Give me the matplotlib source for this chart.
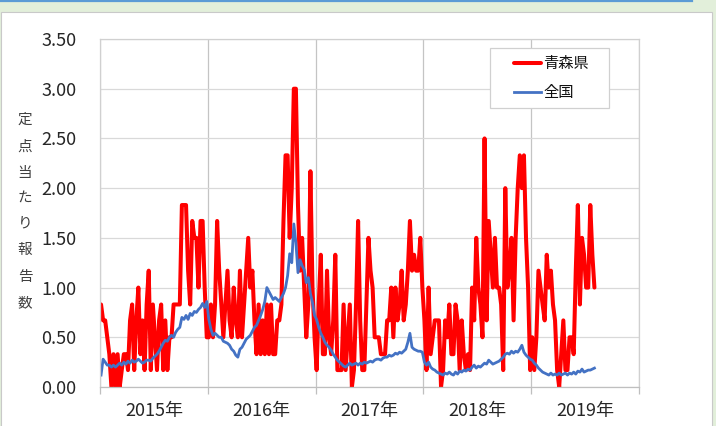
import matplotlib
matplotlib.use("Agg")
import matplotlib.pyplot as plt
import numpy as np
from matplotlib.patches import Rectangle
from matplotlib.lines import Line2D

plt.rcParams['font.family'] = ['Noto Sans CJK JP', 'DejaVu Sans']

# 週ごとの定点当たり報告数 (1年 = 52週, 2019年は途中まで)
years = ['2015年', '2016年', '2017年', '2018年', '2019年']
weeks_per_year = 52

aomori_2015 = [0.83, 0.67, 0.67, 0.5, 0.33, 0.0, 0.33, 0.0, 0.33, 0.0,
               0.17, 0.33, 0.33, 0.17, 0.67, 0.83, 0.17, 0.67, 1.0, 0.33,
               0.67, 0.17, 0.83, 1.17, 0.17, 0.83, 0.5, 0.17, 0.67, 0.83,
               0.17, 0.67, 0.17, 0.5, 0.5, 0.83, 0.83, 0.83, 0.83, 1.83,
               1.83, 1.83, 1.17, 0.83, 1.67, 1.5, 1.5, 1.0, 1.67, 1.67,
               1.0, 0.5]
aomori_2016 = [0.5, 0.83, 0.5, 0.83, 1.67, 1.17, 0.83, 0.5, 0.83, 1.17,
               0.67, 0.5, 1.0, 0.67, 0.5, 1.17, 0.5, 0.83, 1.17, 1.5,
               1.0, 1.17, 0.67, 0.33, 0.83, 0.33, 0.67, 0.33, 0.83, 0.33,
               0.83, 0.33, 0.33, 0.67, 0.67, 0.83, 1.67, 2.33, 2.33, 1.5,
               2.0, 3.0, 3.0, 1.83, 1.17, 1.5, 1.0, 0.5, 0.83, 2.17,
               1.0, 0.5]
aomori_2017 = [0.17, 0.83, 1.33, 0.33, 0.33, 1.17, 0.5, 0.33, 0.67, 1.33,
               0.17, 0.17, 0.17, 0.83, 0.17, 0.5, 0.83, 0.0, 0.17, 0.83,
               1.67, 0.67, 0.17, 0.17, 0.83, 1.5, 1.17, 1.0, 0.5, 0.5,
               0.5, 0.33, 0.33, 0.33, 0.67, 0.67, 1.0, 0.5, 1.0, 0.67,
               0.83, 1.17, 0.67, 0.83, 1.17, 1.67, 1.17, 1.33, 1.17, 1.17,
               1.5, 1.0]
aomori_2018 = [0.67, 0.17, 1.0, 0.33, 0.5, 0.67, 0.67, 0.67, 0.0, 0.17,
               0.67, 0.5, 0.83, 0.33, 0.33, 0.83, 0.67, 0.17, 0.67, 0.33,
               0.17, 0.33, 0.17, 1.0, 0.67, 1.5, 1.0, 0.83, 0.5, 2.5,
               0.67, 1.67, 1.33, 1.0, 1.5, 1.0, 1.0, 0.83, 0.17, 2.0,
               1.0, 1.17, 1.5, 0.67, 1.5, 2.0, 2.33, 2.0, 2.33, 1.5,
               1.0, 0.17]
aomori_2019 = [0.5, 0.17, 0.5, 1.17, 1.0, 0.83, 0.67, 1.33, 1.0, 1.17,
               0.83, 0.67, 0.17, 0.0, 0.33, 0.67, 0.17, 0.17, 0.5, 0.5,
               0.33, 1.17, 1.83, 0.83, 1.5, 1.33, 1.0, 1.0, 1.83, 1.33,
               1.0]

zenkoku_2015 = [0.12, 0.28, 0.25, 0.22, 0.22, 0.2, 0.22, 0.2, 0.22, 0.24,
                0.22, 0.25, 0.23, 0.26, 0.24, 0.27, 0.25, 0.26, 0.28, 0.26,
                0.24, 0.25, 0.27, 0.27, 0.26, 0.29, 0.31, 0.33, 0.36, 0.4,
                0.44, 0.47, 0.46, 0.5, 0.52, 0.5, 0.55, 0.58, 0.6, 0.7,
                0.68, 0.72, 0.68, 0.74, 0.72, 0.76, 0.75, 0.78, 0.8, 0.84,
                0.8, 0.86]
zenkoku_2016 = [0.68, 0.58, 0.52, 0.54, 0.52, 0.5, 0.5, 0.46, 0.45, 0.44,
                0.42, 0.38, 0.36, 0.32, 0.3, 0.38, 0.4, 0.44, 0.48, 0.5,
                0.52, 0.56, 0.6, 0.62, 0.67, 0.72, 0.78, 0.86, 1.0, 0.96,
                0.92, 0.88, 0.9, 0.88, 0.86, 0.9, 0.94, 1.0, 1.12, 1.34,
                1.25, 1.64, 1.45, 1.15, 1.28, 1.22, 1.18, 1.05, 1.1, 0.94,
                0.85, 0.72]
zenkoku_2017 = [0.68, 0.6, 0.54, 0.5, 0.45, 0.42, 0.4, 0.37, 0.33, 0.3,
                0.27, 0.25, 0.23, 0.21, 0.2, 0.22, 0.24, 0.22, 0.23, 0.24,
                0.22, 0.24, 0.23, 0.25, 0.24, 0.25, 0.26, 0.25, 0.27, 0.28,
                0.28, 0.27, 0.29, 0.3, 0.3, 0.32, 0.31, 0.32, 0.34, 0.33,
                0.35, 0.34, 0.36, 0.38, 0.45, 0.54, 0.4, 0.38, 0.37, 0.36,
                0.36, 0.35]
zenkoku_2018 = [0.25, 0.22, 0.25, 0.2, 0.18, 0.17, 0.15, 0.14, 0.13, 0.12,
                0.14, 0.13, 0.15, 0.13, 0.12, 0.15, 0.13, 0.16, 0.15, 0.17,
                0.16, 0.18, 0.17, 0.2, 0.22, 0.19, 0.21, 0.2, 0.22, 0.24,
                0.23, 0.27, 0.25, 0.23, 0.24, 0.25, 0.26, 0.28, 0.3, 0.33,
                0.34, 0.33, 0.36, 0.34, 0.36, 0.35, 0.38, 0.42, 0.35, 0.32,
                0.3, 0.28]
zenkoku_2019 = [0.27, 0.24, 0.22, 0.19, 0.17, 0.15, 0.14, 0.13, 0.12, 0.14,
                0.12, 0.13, 0.12, 0.14, 0.12, 0.13, 0.14, 0.12, 0.14, 0.13,
                0.15, 0.13, 0.16, 0.15, 0.18, 0.15, 0.16, 0.17, 0.17, 0.18,
                0.19]

aomori = aomori_2015 + aomori_2016 + aomori_2017 + aomori_2018 + aomori_2019
zenkoku = zenkoku_2015 + zenkoku_2016 + zenkoku_2017 + zenkoku_2018 + zenkoku_2019

W, H = 716, 426
fig = plt.figure(figsize=(W / 100, H / 100), dpi=100, facecolor='#e2efda')

# 白いパネルと上の青線 (グラフの後ろに置く)
fig.add_artist(Rectangle((1 / W, -0.02), 711 / W, (H - 12) / H + 0.02,
                         transform=fig.transFigure, facecolor='white',
                         edgecolor='#c9c9c9', lw=0.8, zorder=-10))
fig.add_artist(Line2D([0, 692 / W], [1 - 0.6 / H] * 2, color='#5b9bd5', lw=1.6,
                      transform=fig.transFigure, zorder=-10))

ax = fig.add_axes([100 / W, 1 - 387 / H, 539 / W, 348 / H])
ax.set_facecolor('white')

x_a = np.arange(len(aomori))
x_z = np.arange(len(zenkoku))
ax.plot(x_a, aomori, color='#ff0000', lw=2.9, label='青森県',
        solid_joinstyle='round', solid_capstyle='round')
ax.plot(x_z, zenkoku, color='#4472c4', lw=2.0, label='全国',
        solid_joinstyle='round')

n_cat = weeks_per_year * len(years)
ax.set_xlim(-0.5, n_cat - 0.5)
ax.set_ylim(0, 3.5)

ax.set_yticks(np.arange(0, 3.51, 0.5))
ax.set_yticklabels(['%.2f' % v for v in np.arange(0, 3.51, 0.5)])
ax.tick_params(axis='y', length=0, pad=17, labelsize=13, labelcolor='#262626')
ax.grid(axis='y', color='#d9d9d9', lw=0.9)

bounds = [-0.5 + weeks_per_year * i for i in range(len(years) + 1)]
ax.set_xticks(bounds)
ax.set_xticklabels([])
ax.tick_params(axis='x', which='major', length=5, color='#bfbfbf', width=0.9)
ax.set_xticks([weeks_per_year * i + weeks_per_year / 2 - 0.5 for i in range(len(years))], minor=True)
ax.set_xticklabels(years, minor=True)
ax.tick_params(axis='x', which='minor', length=0, pad=11, labelsize=13, labelcolor='#262626')
ax.grid(axis='x', which='major', color='#c4c4c4', lw=0.9)
ax.set_axisbelow(True)

for s in ['left', 'right', 'top']:
    ax.spines[s].set_color('#d0d0d0')
    ax.spines[s].set_linewidth(0.9)
ax.spines['bottom'].set_color('#bfbfbf')
ax.spines['bottom'].set_linewidth(0.9)

# 縦書きの軸ラベル
ylab = '定点当たり報告数'
ys = [120, 147, 173, 198, 223, 250, 277, 303]
for ch, yy in zip(ylab, ys):
    fig.text(25 / W, 1 - yy / H, ch, ha='center', va='center', fontsize=10.5, color='#404040')

# 凡例: 枠は別に描き、中身を枠の中央に置く
lx0, ly0, lx1, ly1 = 490, 48, 609, 108
ax.add_patch(Rectangle((lx0 / W, 1 - ly1 / H), (lx1 - lx0) / W, (ly1 - ly0) / H,
                       transform=fig.transFigure, facecolor='white', clip_on=False,
                       edgecolor='#d0d0d0', lw=0.9, zorder=4))
leg = ax.legend(loc='center', bbox_to_anchor=((lx0 + lx1) / 2 / W + 2 / W, 1 - (ly0 + ly1) / 2 / H),
                bbox_transform=fig.transFigure, fontsize=11, frameon=False,
                handlelength=1.75, handletextpad=0.15, labelspacing=0.8,
                borderpad=0, borderaxespad=0)
leg.set_zorder(5)
for t in leg.get_texts():
    t.set_color('#111111')

fig.savefig('out.png', dpi=100, facecolor=fig.get_facecolor())
